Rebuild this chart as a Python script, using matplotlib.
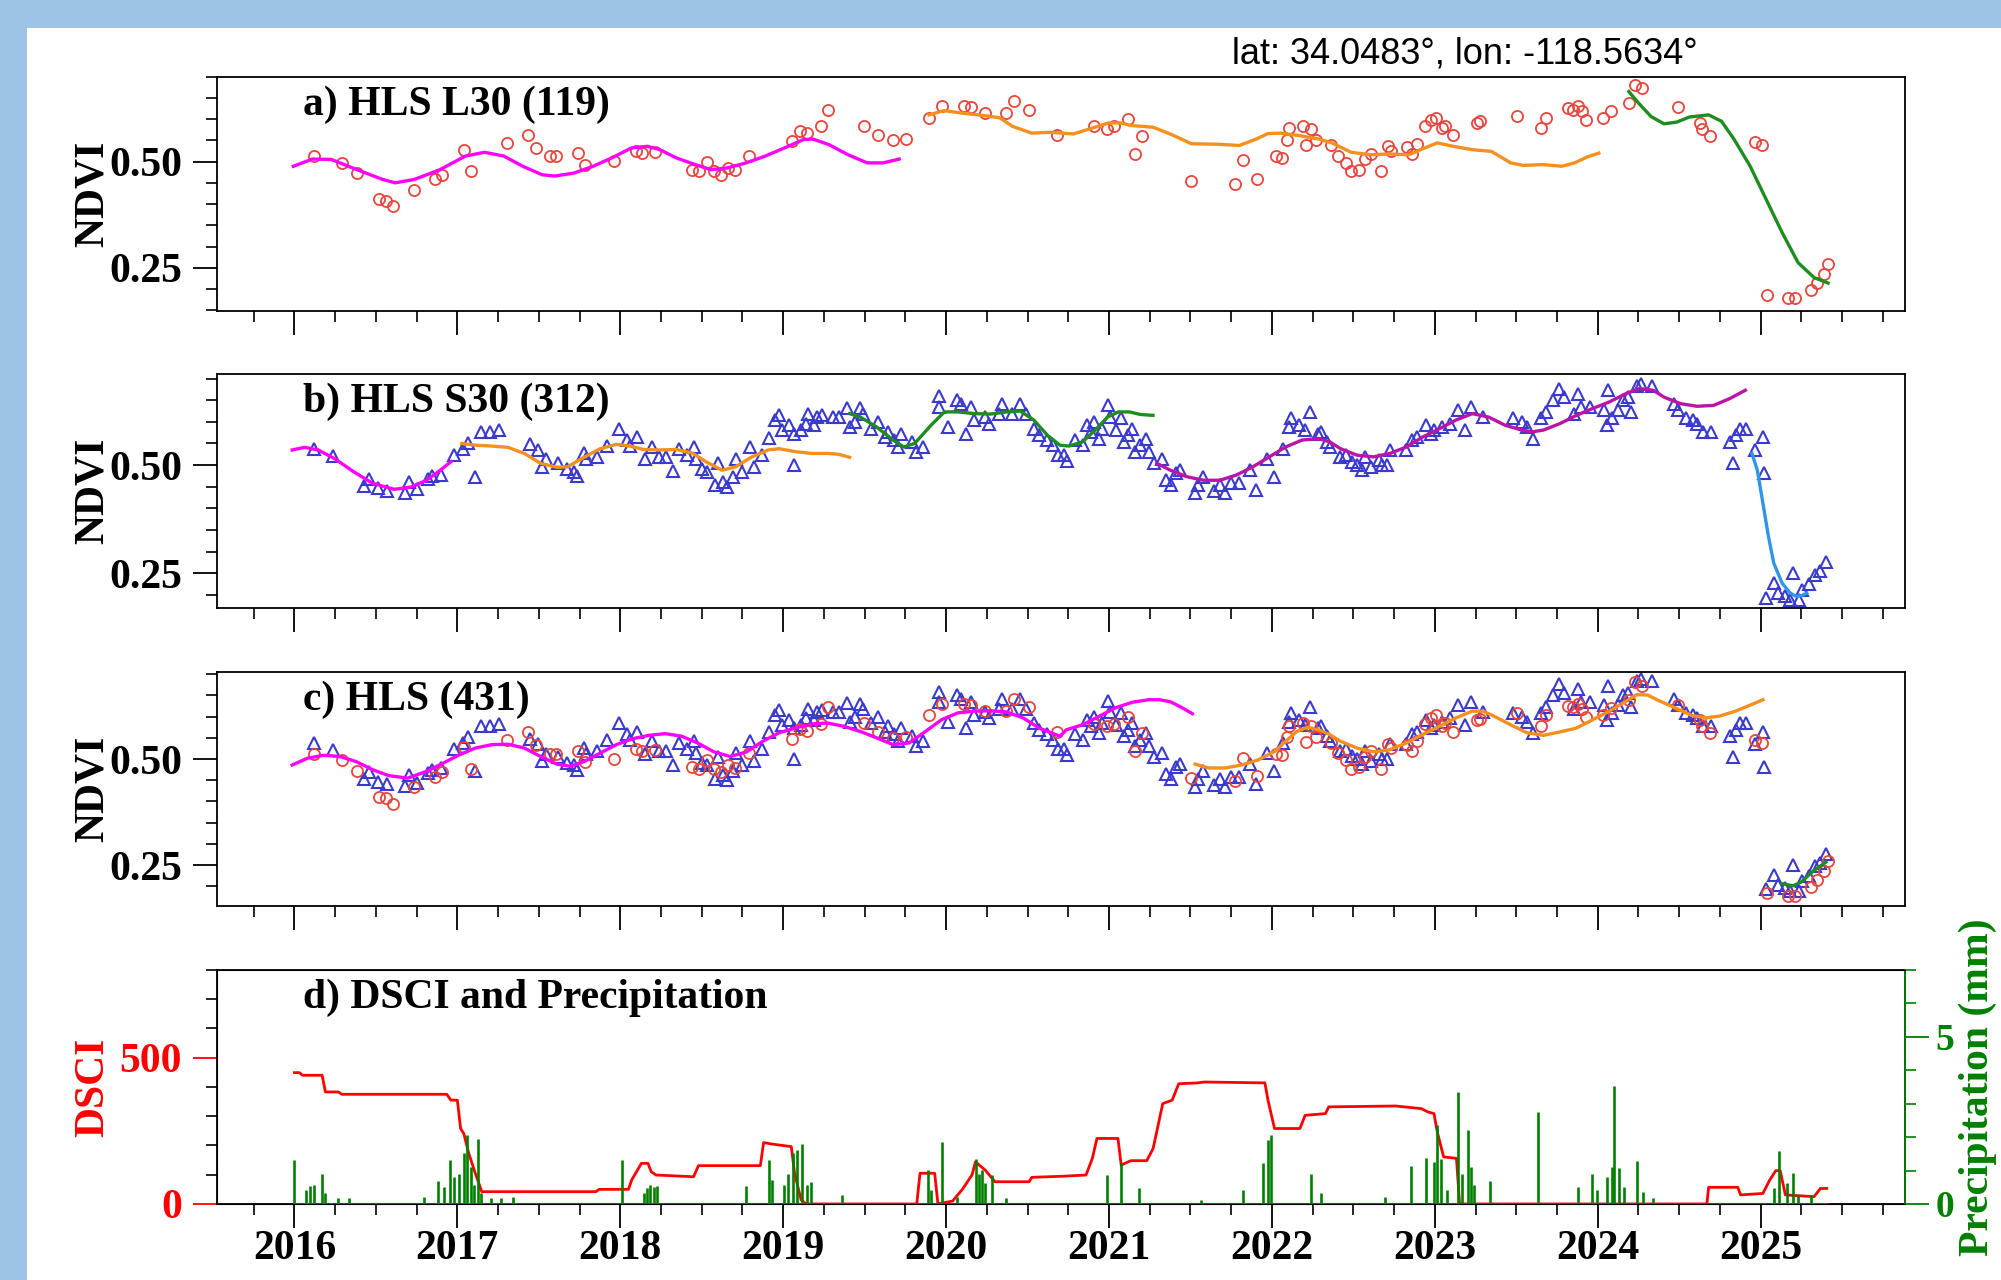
import matplotlib
matplotlib.use('Agg')
import matplotlib.pyplot as plt
from matplotlib.patches import Rectangle
from matplotlib.ticker import MultipleLocator, FixedLocator, FormatStrFormatter

# ---------------- data (decimal years) ----------------
# a) HLS L30 observations
l30_t = [2016.122, 2016.294, 2016.384, 2016.521, 2016.560, 2016.607, 2016.736, 2016.865, 2016.905, 2017.038,
         2017.081, 2017.304, 2017.433, 2017.480, 2017.566, 2017.605, 2017.742, 2017.782, 2017.962, 2018.095,
         2018.134, 2018.216, 2018.439, 2018.486, 2018.530, 2018.577, 2018.616, 2018.663, 2018.706, 2018.792,
         2019.054, 2019.105, 2019.144, 2019.230, 2019.273, 2019.497, 2019.583, 2019.673, 2019.751, 2019.896,
         2019.975, 2020.112, 2020.151, 2020.241, 2020.369, 2020.416, 2020.506, 2020.683, 2020.906, 2020.985,
         2021.028, 2021.114, 2021.161, 2021.200, 2021.506, 2021.773, 2021.820, 2021.906, 2022.023, 2022.063,
         2022.094, 2022.102, 2022.192, 2022.212, 2022.239, 2022.270, 2022.361, 2022.408, 2022.455, 2022.486,
         2022.537, 2022.572, 2022.611, 2022.670, 2022.713, 2022.733, 2022.831, 2022.858, 2022.890, 2022.937,
         2022.976, 2023.007, 2023.043, 2023.062, 2023.113, 2023.258, 2023.278, 2023.505, 2023.654, 2023.682,
         2023.819, 2023.846, 2023.878, 2023.905, 2023.929, 2024.034, 2024.081, 2024.191, 2024.230, 2024.270,
         2024.493, 2024.630, 2024.642, 2024.689, 2024.963, 2025.007, 2025.042, 2025.171, 2025.210, 2025.308,
         2025.348, 2025.387, 2025.414]
l30_v = [0.513, 0.497, 0.473, 0.411, 0.407, 0.395, 0.434, 0.458, 0.469, 0.528,
         0.477, 0.544, 0.563, 0.532, 0.513, 0.513, 0.520, 0.493, 0.501, 0.524,
         0.520, 0.522, 0.481, 0.477, 0.498, 0.477, 0.469, 0.485, 0.480, 0.514,
         0.548, 0.571, 0.567, 0.583, 0.622, 0.585, 0.563, 0.550, 0.553, 0.603,
         0.631, 0.631, 0.628, 0.614, 0.614, 0.642, 0.622, 0.563, 0.583, 0.577,
         0.583, 0.600, 0.518, 0.561, 0.455, 0.448, 0.503, 0.459, 0.513, 0.509,
         0.552, 0.579, 0.585, 0.540, 0.577, 0.552, 0.538, 0.514, 0.497, 0.477,
         0.481, 0.506, 0.519, 0.477, 0.536, 0.526, 0.534, 0.519, 0.542, 0.583,
         0.597, 0.603, 0.579, 0.585, 0.563, 0.591, 0.595, 0.608, 0.579, 0.603,
         0.626, 0.622, 0.631, 0.618, 0.599, 0.603, 0.620, 0.639, 0.681, 0.673,
         0.628, 0.592, 0.577, 0.561, 0.545, 0.538, 0.185, 0.178, 0.178, 0.198,
         0.214, 0.235, 0.260]

# b) HLS S30 observations
s30_t = [2016.123, 2016.239, 2016.456, 2016.429, 2016.512, 2016.569, 2016.679, 2016.702, 2016.755, 2016.822,
         2016.845, 2016.901, 2016.978, 2017.035, 2017.068, 2017.111, 2017.144, 2017.201, 2017.254, 2017.444,
         2017.494, 2017.517, 2017.544, 2017.620, 2017.670, 2017.717, 2017.737, 2017.777, 2017.787, 2017.860,
         2017.920, 2017.993, 2018.043, 2018.060, 2018.100, 2018.153, 2018.193, 2018.236, 2018.283, 2018.326,
         2018.363, 2018.409, 2018.452, 2018.465, 2018.502, 2018.532, 2018.582, 2018.598, 2018.632, 2018.658,
         2018.692, 2018.708, 2018.748, 2018.798, 2018.818, 2018.868, 2018.915, 2018.951, 2018.975, 2018.991,
         2019.035, 2019.068, 2019.068, 2019.108, 2019.141, 2019.151, 2019.191, 2019.208, 2019.241, 2019.308,
         2019.341, 2019.391, 2019.408, 2019.441, 2019.474, 2019.491, 2019.541, 2019.581, 2019.624, 2019.641,
         2019.681, 2019.707, 2019.724, 2019.790, 2019.817, 2019.857, 2019.957, 2019.957, 2020.013, 2020.066,
         2020.090, 2020.123, 2020.156, 2020.173, 2020.240, 2020.263, 2020.323, 2020.346, 2020.406, 2020.456,
         2020.489, 2020.539, 2020.572, 2020.622, 2020.656, 2020.689, 2020.721, 2020.745, 2020.789, 2020.839,
         2020.866, 2020.890, 2020.906, 2020.940, 2020.957, 2020.991, 2021.007, 2021.041, 2021.075, 2021.092,
         2021.115, 2021.142, 2021.159, 2021.193, 2021.226, 2021.243, 2021.277, 2021.327, 2021.351, 2021.378,
         2021.411, 2021.438, 2021.529, 2021.546, 2021.580, 2021.647, 2021.681, 2021.714, 2021.748, 2021.799,
         2021.866, 2021.900, 2021.967, 2022.011, 2022.068, 2022.102, 2022.118, 2022.169, 2022.203, 2022.236,
         2022.280, 2022.304, 2022.337, 2022.354, 2022.421, 2022.455, 2022.489, 2022.522, 2022.556, 2022.573,
         2022.607, 2022.657, 2022.674, 2022.708, 2022.725, 2022.826, 2022.859, 2022.893, 2022.943, 2022.977,
         2022.994, 2023.044, 2023.095, 2023.145, 2023.186, 2023.223, 2023.297, 2023.482, 2023.533, 2023.566,
         2023.600, 2023.650, 2023.684, 2023.728, 2023.762, 2023.795, 2023.852, 2023.879, 2023.896, 2023.953,
         2024.038, 2024.054, 2024.065, 2024.088, 2024.122, 2024.155, 2024.189, 2024.206, 2024.240, 2024.267,
         2024.331, 2024.469, 2024.492, 2024.543, 2024.583, 2024.610, 2024.644, 2024.694, 2024.812, 2024.829,
         2024.846, 2024.873, 2024.913, 2024.964, 2025.014, 2025.021, 2025.031, 2025.081, 2025.108, 2025.149,
         2025.182, 2025.199, 2025.233, 2025.256, 2025.300, 2025.334, 2025.367, 2025.401]
s30_v = [0.538, 0.521, 0.469, 0.452, 0.446, 0.441, 0.436, 0.462, 0.444, 0.467,
         0.475, 0.478, 0.523, 0.537, 0.551, 0.473, 0.577, 0.577, 0.582, 0.548,
         0.535, 0.496, 0.513, 0.505, 0.490, 0.485, 0.475, 0.527, 0.513, 0.519,
         0.544, 0.584, 0.559, 0.544, 0.565, 0.513, 0.542, 0.518, 0.519, 0.486,
         0.538, 0.523, 0.542, 0.515, 0.490, 0.485, 0.454, 0.505, 0.462, 0.450,
         0.473, 0.515, 0.485, 0.542, 0.496, 0.523, 0.563, 0.604, 0.615, 0.581,
         0.592, 0.500, 0.573, 0.581, 0.596, 0.619, 0.592, 0.611, 0.615, 0.611,
         0.611, 0.633, 0.588, 0.600, 0.631, 0.619, 0.584, 0.600, 0.565, 0.577,
         0.558, 0.542, 0.573, 0.554, 0.531, 0.542, 0.659, 0.634, 0.588, 0.650,
         0.642, 0.573, 0.634, 0.604, 0.611, 0.596, 0.619, 0.642, 0.619, 0.642,
         0.619, 0.584, 0.569, 0.558, 0.546, 0.523, 0.523, 0.510, 0.558, 0.546,
         0.592, 0.577, 0.600, 0.561, 0.584, 0.638, 0.611, 0.581, 0.608, 0.554,
         0.569, 0.584, 0.531, 0.546, 0.561, 0.531, 0.504, 0.515, 0.465, 0.454,
         0.481, 0.488, 0.435, 0.454, 0.473, 0.439, 0.454, 0.435, 0.458, 0.458,
         0.488, 0.442, 0.515, 0.473, 0.538, 0.588, 0.608, 0.592, 0.581, 0.623,
         0.573, 0.577, 0.554, 0.542, 0.519, 0.523, 0.508, 0.500, 0.488, 0.519,
         0.496, 0.512, 0.500, 0.500, 0.535, 0.535, 0.558, 0.565, 0.592, 0.573,
         0.581, 0.588, 0.596, 0.627, 0.581, 0.634, 0.611, 0.608, 0.600, 0.588,
         0.561, 0.608, 0.623, 0.650, 0.677, 0.657, 0.619, 0.665, 0.634, 0.634,
         0.627, 0.592, 0.673, 0.608, 0.627, 0.650, 0.657, 0.623, 0.684, 0.688,
         0.684, 0.642, 0.627, 0.608, 0.604, 0.596, 0.577, 0.577, 0.554, 0.504,
         0.569, 0.584, 0.584, 0.535, 0.565, 0.481, 0.193, 0.227, 0.204, 0.197,
         0.189, 0.250, 0.189, 0.212, 0.224, 0.247, 0.254, 0.277]

# fitted curves, panel a
a_mag_t = [2015.993, 2016.110, 2016.227, 2016.384, 2016.541, 2016.619, 2016.736, 2016.893, 2017.049, 2017.167,
           2017.285, 2017.402, 2017.520, 2017.598, 2017.716, 2017.833, 2017.950, 2018.068, 2018.166, 2018.244,
           2018.342, 2018.460, 2018.557, 2018.655, 2018.773, 2018.890, 2019.007, 2019.125, 2019.183, 2019.281,
           2019.399, 2019.516, 2019.614, 2019.712]
a_mag_v = [0.489, 0.506, 0.505, 0.481, 0.458, 0.450, 0.458, 0.481, 0.513, 0.522,
           0.513, 0.489, 0.469, 0.466, 0.473, 0.489, 0.509, 0.532, 0.536, 0.528,
           0.509, 0.493, 0.481, 0.485, 0.497, 0.513, 0.532, 0.552, 0.553, 0.540,
           0.516, 0.497, 0.497, 0.506]
a_org_t = [2019.896, 2019.986, 2020.103, 2020.241, 2020.330, 2020.408, 2020.526, 2020.644, 2020.781, 2020.898,
           2020.996, 2021.075, 2021.134, 2021.271, 2021.388, 2021.506, 2021.663, 2021.800, 2021.898, 2021.976,
           2022.055, 2022.172, 2022.290, 2022.368, 2022.486, 2022.604, 2022.721, 2022.839, 2022.937, 2023.015,
           2023.113, 2023.231, 2023.348, 2023.466, 2023.544, 2023.662, 2023.780, 2023.858, 2023.936, 2024.007]
a_org_v = [0.610, 0.620, 0.614, 0.608, 0.603, 0.583, 0.567, 0.569, 0.565, 0.579,
           0.591, 0.591, 0.585, 0.581, 0.563, 0.542, 0.541, 0.538, 0.552, 0.566,
           0.567, 0.561, 0.553, 0.544, 0.522, 0.516, 0.518, 0.516, 0.532, 0.544,
           0.536, 0.528, 0.524, 0.497, 0.491, 0.493, 0.489, 0.497, 0.511, 0.520]
a_grn_t = [2024.191, 2024.250, 2024.328, 2024.407, 2024.485, 2024.563, 2024.681, 2024.760, 2024.838, 2024.936,
           2025.034, 2025.132, 2025.230, 2025.328, 2025.414]
a_grn_v = [0.665, 0.638, 0.606, 0.589, 0.593, 0.605, 0.610, 0.595, 0.552, 0.489,
           0.411, 0.333, 0.262, 0.227, 0.214]

# fitted curves, panel b
b_mag_t = [2015.986, 2016.063, 2016.146, 2016.246, 2016.362, 2016.479, 2016.612, 2016.712, 2016.811, 2016.895, 2016.961]
b_mag_v = [0.535, 0.541, 0.535, 0.515, 0.485, 0.458, 0.444, 0.449, 0.465, 0.488, 0.508]
b_org_t = [2017.028, 2017.111, 2017.211, 2017.311, 2017.411, 2017.511, 2017.611, 2017.677, 2017.777, 2017.877,
           2017.976, 2018.060, 2018.143, 2018.243, 2018.343, 2018.442, 2018.525, 2018.625, 2018.708, 2018.808,
           2018.908, 2018.975, 2019.075, 2019.175, 2019.274, 2019.341, 2019.408]
b_org_v = [0.550, 0.546, 0.544, 0.541, 0.527, 0.504, 0.495, 0.496, 0.518, 0.538,
           0.548, 0.544, 0.536, 0.535, 0.536, 0.528, 0.508, 0.488, 0.496, 0.519,
           0.535, 0.538, 0.531, 0.527, 0.527, 0.525, 0.518]
b_grn_t = [2019.408, 2019.474, 2019.574, 2019.674, 2019.740, 2019.807, 2019.907, 2019.990, 2020.073, 2020.173,
           2020.273, 2020.373, 2020.456, 2020.539, 2020.622, 2020.699, 2020.755, 2020.839, 2020.923, 2020.991,
           2021.058, 2021.125, 2021.193, 2021.270]
b_grn_v = [0.619, 0.611, 0.588, 0.558, 0.542, 0.550, 0.592, 0.623, 0.623, 0.619,
           0.618, 0.623, 0.625, 0.604, 0.569, 0.546, 0.544, 0.554, 0.584, 0.611,
           0.623, 0.623, 0.617, 0.615]
b_pur_t = [2021.294, 2021.378, 2021.479, 2021.580, 2021.681, 2021.782, 2021.883, 2021.984, 2022.085, 2022.186,
           2022.287, 2022.354, 2022.421, 2022.522, 2022.624, 2022.725, 2022.826, 2022.926, 2023.028, 2023.129,
           2023.230, 2023.331, 2023.432, 2023.533, 2023.600, 2023.667, 2023.768, 2023.869, 2023.970, 2024.071,
           2024.172, 2024.257, 2024.341, 2024.408, 2024.509, 2024.610, 2024.711, 2024.812, 2024.906]
b_pur_v = [0.504, 0.488, 0.473, 0.465, 0.465, 0.477, 0.496, 0.519, 0.542, 0.558,
           0.561, 0.554, 0.538, 0.523, 0.519, 0.527, 0.542, 0.565, 0.584, 0.604,
           0.619, 0.611, 0.592, 0.581, 0.577, 0.581, 0.596, 0.615, 0.631, 0.646,
           0.665, 0.677, 0.673, 0.657, 0.642, 0.636, 0.638, 0.654, 0.673]
b_blu_t = [2024.947, 2024.980, 2025.014, 2025.048, 2025.081, 2025.132, 2025.182, 2025.216, 2025.250, 2025.283]
b_blu_v = [0.527, 0.488, 0.412, 0.335, 0.273, 0.227, 0.204, 0.197, 0.198, 0.204]

# fitted curves, panel c
c_mag_t = [2015.986, 2016.080, 2016.179, 2016.279, 2016.379, 2016.479, 2016.579, 2016.695, 2016.811, 2016.911,
           2017.011, 2017.111, 2017.211, 2017.311, 2017.411, 2017.511, 2017.611, 2017.694, 2017.777, 2017.877,
           2017.976, 2018.076, 2018.176, 2018.276, 2018.376, 2018.475, 2018.575, 2018.675, 2018.775, 2018.875,
           2018.975, 2019.074, 2019.174, 2019.274, 2019.374, 2019.474, 2019.574, 2019.674, 2019.773, 2019.873,
           2019.973, 2020.073, 2020.173, 2020.273, 2020.373, 2020.473, 2020.572, 2020.699, 2020.738, 2020.839,
           2020.940, 2021.041, 2021.142, 2021.243, 2021.310, 2021.378, 2021.445, 2021.512]
c_mag_v = [0.486, 0.502, 0.509, 0.506, 0.494, 0.475, 0.461, 0.455, 0.471, 0.490,
           0.510, 0.526, 0.534, 0.535, 0.526, 0.506, 0.488, 0.483, 0.494, 0.514,
           0.534, 0.548, 0.556, 0.560, 0.554, 0.538, 0.517, 0.506, 0.517, 0.542,
           0.562, 0.573, 0.583, 0.585, 0.577, 0.565, 0.550, 0.534, 0.538, 0.565,
           0.593, 0.609, 0.613, 0.614, 0.611, 0.597, 0.573, 0.554, 0.569, 0.581,
           0.601, 0.621, 0.634, 0.640, 0.640, 0.635, 0.622, 0.607]
c_org_t = [2021.529, 2021.613, 2021.714, 2021.815, 2021.916, 2022.017, 2022.085, 2022.152, 2022.220, 2022.287,
           2022.354, 2022.421, 2022.522, 2022.624, 2022.725, 2022.826, 2022.926, 2023.028, 2023.129, 2023.230,
           2023.297, 2023.364, 2023.465, 2023.566, 2023.667, 2023.768, 2023.869, 2023.970, 2024.071, 2024.172,
           2024.240, 2024.307, 2024.374, 2024.475, 2024.576, 2024.660, 2024.745, 2024.846, 2024.947, 2025.014]
c_org_v = [0.488, 0.479, 0.479, 0.486, 0.498, 0.518, 0.542, 0.565, 0.575, 0.569,
           0.558, 0.542, 0.526, 0.517, 0.522, 0.538, 0.558, 0.577, 0.597, 0.613,
           0.613, 0.601, 0.581, 0.562, 0.556, 0.564, 0.573, 0.593, 0.613, 0.636,
           0.652, 0.651, 0.638, 0.621, 0.603, 0.597, 0.601, 0.613, 0.629, 0.640]
c_grn_t = [2025.132, 2025.199, 2025.250, 2025.317, 2025.401]
c_grn_v = [0.206, 0.201, 0.210, 0.234, 0.257]

# d) DSCI (weekly) and precipitation
dsci_t = [2016.000, 2016.030, 2016.050, 2016.170, 2016.190, 2016.270, 2016.290, 2016.935, 2016.960, 2017.000,
          2017.020, 2017.040, 2017.070, 2017.110, 2017.150, 2017.850, 2017.870, 2018.050, 2018.070, 2018.130,
          2018.170, 2018.190, 2018.220, 2018.450, 2018.480, 2018.860, 2018.880, 2018.930, 2019.050, 2019.070,
          2019.110, 2019.140, 2019.820, 2019.840, 2019.930, 2019.950, 2020.040, 2020.100, 2020.160, 2020.180,
          2020.240, 2020.300, 2020.510, 2020.526, 2020.722, 2020.859, 2020.898, 2020.926, 2021.055, 2021.075,
          2021.134, 2021.232, 2021.271, 2021.330, 2021.388, 2021.428, 2021.545, 2021.584, 2021.957, 2021.976,
          2022.016, 2022.172, 2022.204, 2022.329, 2022.349, 2022.760, 2022.917, 2022.956, 2022.995, 2023.015,
          2023.054, 2023.133, 2023.152, 2024.670, 2024.681, 2024.860, 2024.877, 2025.014, 2025.054, 2025.093,
          2025.120, 2025.152, 2025.328, 2025.367, 2025.406]
dsci_v = [449, 449, 440, 440, 383, 383, 375, 375, 355, 355,
          258, 240, 173, 105, 42, 42, 50, 50, 82, 139,
          139, 110, 99, 93, 131, 131, 210, 205, 196, 105,
          14, 0, 0, 105, 105, 0, 10, 50, 100, 144,
          116, 76, 76, 91, 95, 99, 156, 224, 224, 133,
          148, 148, 190, 343, 355, 411, 414, 417, 414, 355,
          258, 258, 303, 309, 332, 335, 326, 315, 309, 247,
          161, 156, 0, 0, 57, 57, 31, 36, 80, 114,
          114, 31, 25, 53, 53]

prcp_t = [2016.000, 2016.071, 2016.098, 2016.122, 2016.169, 2016.188, 2016.266, 2016.337, 2016.795, 2016.881,
          2016.920, 2016.952, 2016.979, 2017.010, 2017.038, 2017.058, 2017.081, 2017.101, 2017.128, 2017.148,
          2017.206, 2017.265, 2017.343, 2018.009, 2018.146, 2018.166, 2018.185, 2018.205, 2018.225, 2018.773,
          2018.910, 2018.929, 2019.008, 2019.027, 2019.059, 2019.086, 2019.117, 2019.145, 2019.172, 2019.360,
          2019.888, 2019.908, 2019.978, 2020.064, 2020.182, 2020.202, 2020.221, 2020.241, 2020.280, 2020.369,
          2020.989, 2021.075, 2021.185, 2021.565, 2021.820, 2021.945, 2021.976, 2021.996, 2022.239, 2022.302,
          2022.694, 2022.851, 2022.945, 2022.996, 2023.015, 2023.035, 2023.074, 2023.145, 2023.164, 2023.203,
          2023.223, 2023.243, 2023.341, 2023.635, 2023.878, 2023.968, 2023.995, 2024.054, 2024.085, 2024.101,
          2024.132, 2024.164, 2024.242, 2024.281, 2024.340, 2025.081, 2025.112, 2025.159, 2025.199, 2025.230,
          2025.308]
prcp_v = [1.31, 0.42, 0.54, 0.57, 0.91, 0.32, 0.17, 0.17, 0.22, 0.69,
          0.52, 1.31, 0.81, 0.91, 1.51, 2.05, 1.11, 0.57, 1.95, 0.32,
          0.17, 0.17, 0.22, 1.31, 0.32, 0.47, 0.57, 0.52, 0.54, 0.54,
          1.31, 0.71, 0.57, 0.91, 1.51, 1.61, 1.79, 0.57, 0.66, 0.27,
          1.01, 0.42, 1.86, 0.22, 1.36, 0.91, 1.01, 0.62, 0.86, 0.17,
          0.86, 1.23, 0.47, 0.12, 0.42, 1.23, 1.90, 2.07, 0.91, 0.32,
          0.20, 1.13, 1.39, 1.26, 2.35, 1.36, 0.42, 3.36, 0.91, 2.22,
          1.11, 0.57, 0.69, 2.75, 0.50, 0.91, 0.42, 0.81, 1.11, 3.52,
          1.09, 0.52, 1.28, 0.37, 0.17, 0.47, 1.59, 0.62, 0.93, 0.27,
          0.27]
prcp_span = [2016.0, 2025.42]

years = list(range(2016, 2026))
xlim = (2015.524, 2025.886)

# ---------------- style ----------------
plt.rcParams['font.family'] = 'Liberation Serif'
plt.rcParams['font.weight'] = 'bold'
plt.rcParams['axes.labelweight'] = 'bold'
fs = 30

red_c = '#E8453C'
blue_c = '#3A3ACF'
mag_c = '#FF00FF'
org_c = '#F5901E'
grn_c = '#1E8C1E'
pur_c = '#BB14A6'
sky_c = '#2F95EA'

fig = plt.figure(figsize=(20.01, 12.8), dpi=100)
fig.patch.set_facecolor('#9DC3E6')
fig.add_artist(Rectangle((27 / 2001, 0), 1, 1252 / 1280, transform=fig.transFigure,
                         facecolor='white', edgecolor='none', zorder=-10))

left, width, height = 0.1084, 0.8436, 0.1828
bottoms = [0.7573, 0.5248, 0.2924, 0.0594]
axs = [fig.add_axes([left, b, width, height]) for b in bottoms]


def style_x(ax, labels):
    ax.set_xlim(*xlim)
    ax.xaxis.set_major_locator(FixedLocator(years))
    ax.xaxis.set_minor_locator(MultipleLocator(0.25))
    ax.tick_params(axis='x', which='major', direction='out', length=17, width=1.3, pad=2, labelsize=fs,
                   top=False)
    ax.tick_params(axis='x', which='minor', direction='out', length=8, width=1.2, top=False)
    if labels:
        ax.set_xticks(years)
        ax.set_xticklabels([str(y) for y in years])
    else:
        ax.set_xticklabels([])
    for s in ax.spines.values():
        s.set_linewidth(1.3)


def style_ndvi(ax, ylim):
    ax.set_ylim(*ylim)
    ax.yaxis.set_major_locator(FixedLocator([0.25, 0.50]))
    ax.yaxis.set_major_formatter(FormatStrFormatter('%.2f'))
    ax.yaxis.set_minor_locator(MultipleLocator(0.05))
    ax.tick_params(axis='y', which='major', direction='out', length=17, width=1.3, pad=8, labelsize=fs,
                   right=False)
    ax.tick_params(axis='y', which='minor', direction='out', length=8, width=1.2, right=False)
    ax.set_ylabel('NDVI', fontsize=fs)
    ax.yaxis.set_label_coords(-0.062, 0.5)


mk_c = dict(marker='o', ms=8, mfc='none', mec=red_c, mew=1.3, ls='none')
mk_t = dict(marker='^', ms=9, mfc='none', mec=blue_c, mew=1.5, ls='none')
lw = 2.4

# a)
ax = axs[0]
ax.plot(l30_t, l30_v, **mk_c)
ax.plot(a_mag_t, a_mag_v, color=mag_c, lw=lw)
ax.plot(a_org_t, a_org_v, color=org_c, lw=lw)
ax.plot(a_grn_t, a_grn_v, color=grn_c, lw=lw)
style_x(ax, False)
style_ndvi(ax, (0.149, 0.700))
ax.text(0.051, 0.838, 'a) HLS L30 (119)', transform=ax.transAxes, fontsize=fs, va='baseline')

# b)
ax = axs[1]
ax.plot(s30_t, s30_v, **mk_t)
ax.plot(b_mag_t, b_mag_v, color=mag_c, lw=lw)
ax.plot(b_org_t, b_org_v, color=org_c, lw=lw)
ax.plot(b_grn_t, b_grn_v, color=grn_c, lw=lw)
ax.plot(b_pur_t, b_pur_v, color=pur_c, lw=lw)
ax.plot(b_blu_t, b_blu_v, color=sky_c, lw=lw)
style_x(ax, False)
style_ndvi(ax, (0.169, 0.710))
ax.text(0.051, 0.838, 'b) HLS S30 (312)', transform=ax.transAxes, fontsize=fs, va='baseline')

# c)
ax = axs[2]
ax.plot(s30_t, s30_v, **mk_t)
ax.plot(l30_t, l30_v, **mk_c)
ax.plot(c_mag_t, c_mag_v, color=mag_c, lw=lw)
ax.plot(c_org_t, c_org_v, color=org_c, lw=lw)
ax.plot(c_grn_t, c_grn_v, color=grn_c, lw=lw)
style_x(ax, False)
style_ndvi(ax, (0.154, 0.706))
ax.text(0.051, 0.838, 'c) HLS (431)', transform=ax.transAxes, fontsize=fs, va='baseline')

# d)
ax = axs[3]
ax.plot(dsci_t, dsci_v, color='red', lw=2)
style_x(ax, True)
ax.set_ylim(0, 800)
ax.yaxis.set_major_locator(FixedLocator([0, 500]))
ax.yaxis.set_minor_locator(MultipleLocator(100))
ax.tick_params(axis='y', which='major', direction='out', length=17, width=1.3, pad=8, labelsize=fs,
               colors='red', right=False)
ax.tick_params(axis='y', which='minor', direction='out', length=8, width=1.2, right=False)
ax.set_ylabel('DSCI', fontsize=fs, color='red')
ax.yaxis.set_label_coords(-0.062, 0.5)
ax.text(0.051, 0.838, 'd) DSCI and Precipitation', transform=ax.transAxes, fontsize=fs, va='baseline')

ax2 = ax.twinx()
ax2.vlines(prcp_t, 0, prcp_v, color='green', lw=1.9)
ax2.hlines(0, prcp_span[0], prcp_span[1], color='green', lw=1.5)
ax2.set_ylim(0, 7)
ax2.yaxis.set_major_locator(FixedLocator([0, 5]))
ax2.yaxis.set_minor_locator(MultipleLocator(1))
ax2.tick_params(axis='y', which='major', direction='out', length=17, width=1.3, pad=5, labelsize=27,
                colors='green')
ax2.tick_params(axis='y', which='minor', direction='out', length=8, width=1.2, colors='green')
ax2.spines['right'].set_color('green')
ax2.spines['right'].set_linewidth(1.3)
ax2.set_ylabel('Precipitation (mm)', fontsize=fs, color='green')
ax2.yaxis.set_label_coords(1.032, 0.5)

fig.text(0.732, 1 - 63 / 1280, 'lat: 34.0483°, lon: -118.5634°', family='Liberation Sans',
         weight='normal', fontsize=26, ha='center', va='baseline')

fig.savefig('out.png', dpi=100, facecolor=fig.get_facecolor())
